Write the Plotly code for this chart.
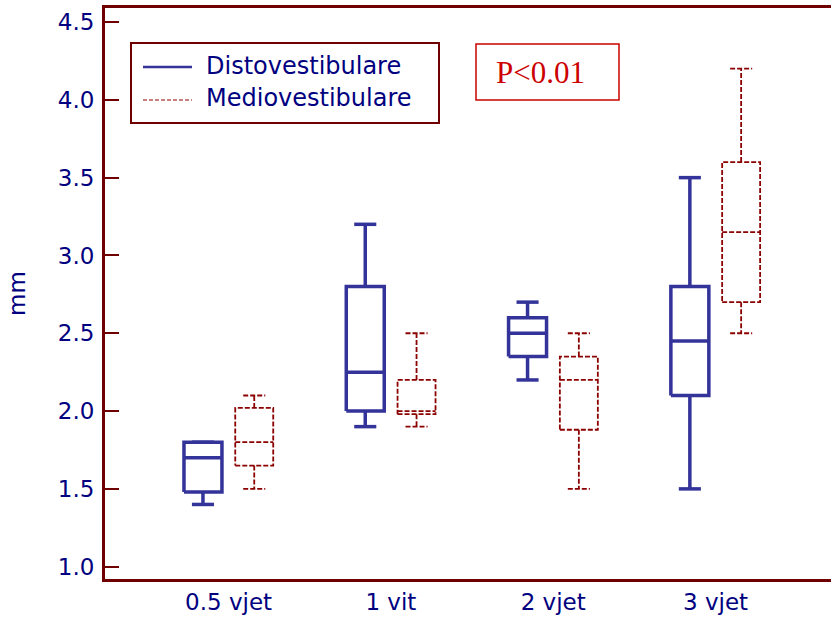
import plotly.graph_objects as go

# Kategoritë (mosha) dhe statistikat e boxplot-eve për secilën matje (mm)
categories = ["0.5 vjet", "1 vit", "2 vjet", "3 vjet"]

disto_low = [1.40, 1.90, 2.20, 1.50]
disto_q1 = [1.48, 2.00, 2.35, 2.10]
disto_med = [1.70, 2.25, 2.50, 2.45]
disto_q3 = [1.80, 2.80, 2.60, 2.80]
disto_high = [1.80, 3.20, 2.70, 3.50]

medio_low = [1.50, 1.90, 1.50, 2.50]
medio_q1 = [1.65, 1.98, 1.88, 2.70]
medio_med = [1.80, 2.00, 2.20, 3.15]
medio_q3 = [2.02, 2.20, 2.35, 3.60]
medio_high = [2.10, 2.50, 2.50, 4.20]

y_ticks = [1.0, 1.5, 2.0, 2.5, 3.0, 3.5, 4.0, 4.5]

W, H = 831, 626
ML, MR, MT, MB = 105, 0, 8, 47
PW, PH = W - ML - MR, H - MT - MB

AXIS_COL = "#700000"
TEXT_COL = "#000080"
BLUE = "#333399"
DARKRED = "#8b0000"
FONT = "DejaVu Sans"

GROUP_OFFSET = 0.158
HALF_BOX = 0.117
HALF_CAP = 0.068


def box_path(center, lo, q1, med, q3, hi):
    xs, ys = [], []
    l, r = center - HALF_BOX, center + HALF_BOX
    xs += [l, r, r, l, l, None]
    ys += [q1, q1, q3, q3, q1, None]
    xs += [l, r, None]
    ys += [med, med, None]
    xs += [center, center, None, center - HALF_CAP, center + HALF_CAP, None]
    ys += [q3, hi, None, hi, hi, None]
    xs += [center, center, None, center - HALF_CAP, center + HALF_CAP, None]
    ys += [q1, lo, None, lo, lo, None]
    return xs, ys


def series_path(offset, lo, q1, med, q3, hi):
    xs, ys = [], []
    for i in range(len(categories)):
        px, py = box_path(i + offset, lo[i], q1[i], med[i], q3[i], hi[i])
        xs += px
        ys += py
    return xs, ys


fig = go.Figure()

dx, dy = series_path(-GROUP_OFFSET, disto_low, disto_q1, disto_med, disto_q3, disto_high)
fig.add_trace(go.Scatter(x=dx, y=dy, mode="lines", name="Distovestibulare",
                         line=dict(color=BLUE, width=3.5), hoverinfo="skip",
                         showlegend=False))

mx, my = series_path(GROUP_OFFSET, medio_low, medio_q1, medio_med, medio_q3, medio_high)
fig.add_trace(go.Scatter(x=mx, y=my, mode="lines", name="Mediovestibulare",
                         line=dict(color=DARKRED, width=1.8, dash="5px,2px"),
                         hoverinfo="skip", showlegend=False))


def px_x(p):
    return (p - ML) / PW


def px_y(p):
    return 1 - (p - MT) / PH


shapes = [
    # legend frame
    dict(type="rect", xref="paper", yref="paper",
         x0=px_x(131), x1=px_x(439), y0=px_y(123), y1=px_y(43),
         line=dict(color=AXIS_COL, width=2)),
    dict(type="line", xref="paper", yref="paper",
         x0=px_x(143), x1=px_x(192), y0=px_y(67), y1=px_y(67),
         line=dict(color=BLUE, width=2.5)),
    dict(type="line", xref="paper", yref="paper",
         x0=px_x(143), x1=px_x(192), y0=px_y(100), y1=px_y(100),
         line=dict(color=DARKRED, width=1.2, dash="4px,2px")),
    # significance frame
    dict(type="rect", xref="paper", yref="paper",
         x0=px_x(476), x1=px_x(619), y0=px_y(100), y1=px_y(44),
         line=dict(color="#cc0000", width=1.5)),
]

annotations = [
    dict(text="Distovestibulare", xref="paper", yref="paper",
         x=px_x(204), y=px_y(66), xanchor="left", yanchor="middle",
         showarrow=False, font=dict(family=FONT, size=24, color=TEXT_COL)),
    dict(text="Mediovestibulare", xref="paper", yref="paper",
         x=px_x(204), y=px_y(98), xanchor="left", yanchor="middle",
         showarrow=False, font=dict(family=FONT, size=24, color=TEXT_COL)),
    dict(text="P<0.01", xref="paper", yref="paper",
         x=px_x(540), y=px_y(72), xanchor="center", yanchor="middle",
         showarrow=False,
         font=dict(family="Liberation Serif", size=31, color="#cc0000")),
]

fig.update_layout(
    width=W, height=H,
    margin=dict(l=ML, r=MR, t=MT, b=MB, pad=0),
    paper_bgcolor="white", plot_bgcolor="white",
    shapes=shapes, annotations=annotations,
    showlegend=False,
)

fig.update_xaxes(
    range=[(ML - 228.6) / 162.3, (W - 228.6) / 162.3],
    tickmode="array", tickvals=list(range(len(categories))), ticktext=categories,
    ticks="", showgrid=False, zeroline=False,
    showline=True, linecolor=AXIS_COL, linewidth=3, mirror=True,
    tickfont=dict(family=FONT, size=23, color=TEXT_COL),
)

fig.update_yaxes(
    range=[1.0 - (579 - 566.7) / 155.6, 4.5 + (22 - 8) / 155.6],
    tickmode="array", tickvals=y_ticks, ticktext=[f"{v:.1f}" for v in y_ticks],
    ticks="inside", ticklen=14, tickwidth=2, tickcolor=AXIS_COL,
    ticklabelstandoff=3,
    showgrid=False, zeroline=False,
    showline=True, linecolor=AXIS_COL, linewidth=3,
    tickfont=dict(family=FONT, size=23, color=TEXT_COL),
    title=dict(text="mm", font=dict(family=FONT, size=23, color=TEXT_COL), standoff=26),
)

fig.write_html("out.html")
